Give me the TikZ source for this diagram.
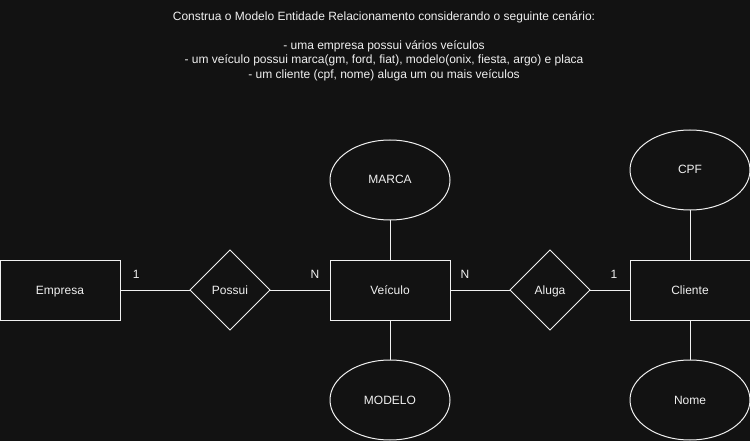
\documentclass[tikz,border=0pt]{standalone}
\usepackage{fontspec}
\setmainfont{Liberation Sans}
\usetikzlibrary{positioning,shapes.geometric}
\definecolor{bg}{HTML}{121212}
\definecolor{ink}{HTML}{F0F0F0}

\begin{document}
\begin{tikzpicture}[x=1pt,y=-1pt,node distance=40pt,
    every node/.style={text=ink,font=\fontsize{12}{14.5}\selectfont},
    shape box/.style={draw=ink,line width=1pt,inner sep=0pt,outer sep=0pt,text height=9.5pt,text depth=1.5pt},
    entity/.style={rectangle,shape box,minimum width=120pt,minimum height=60pt},
    relation/.style={diamond,shape box,minimum width=80pt,minimum height=80pt},
    attrib/.style={ellipse,shape box,minimum width=120pt,minimum height=80pt},
    link/.style={draw=ink,line width=1pt},
    card/.style={yshift=16pt}]

                \fill[bg] (0,0) rectangle (750,441);
                \useasboundingbox (0,0) rectangle (750,441);

                \node[align=center] (enunciado) at (384,46) {Construa o Modelo Entidade Relacionamento considerando o seguinte cenário:\\[14.5pt]
                      - uma empresa possui vários veículos\\
                      - um veículo possui marca(gm, ford, fiat), modelo(onix, fiesta, argo) e placa\\
                      - um cliente (cpf, nome) aluga um ou mais veículos};

                \node[entity] (empresa) at (60,290) {Empresa};

                \node[relation] (possui) [right=70pt of empresa] {Possui};

                \node[entity] (veiculo) [right=60pt of possui] {Veículo};

                \node[relation] (aluga) [right=60pt of veiculo] {Aluga};

                \node[entity] (cliente) [right=of aluga] {Cliente};

                \node[attrib] (marca) [above=of veiculo] {MARCA};

                \node[attrib] (modelo) [below=of veiculo] {MODELO};

                \node[attrib] (cpf) [above=50pt of cliente] {CPF};

                \node[attrib] (nome) [below=of cliente] {Nome};

                

                \path (empresa) edge[link] node[pos=0.23,card] {1} (possui)

                      (possui) edge[link] node[pos=0.75,card] {N} (veiculo)

                      (veiculo) edge[link] node[pos=0.25,card] {N} (aluga)

                      (aluga) edge[link] node[pos=0.6,card] {1} (cliente)

                      (veiculo) edge[link] (marca)

                      (veiculo) edge[link] (modelo)

                      (cliente) edge[link] (cpf)

                      (cliente) edge[link] (nome);

            \end{tikzpicture}
\end{document}
